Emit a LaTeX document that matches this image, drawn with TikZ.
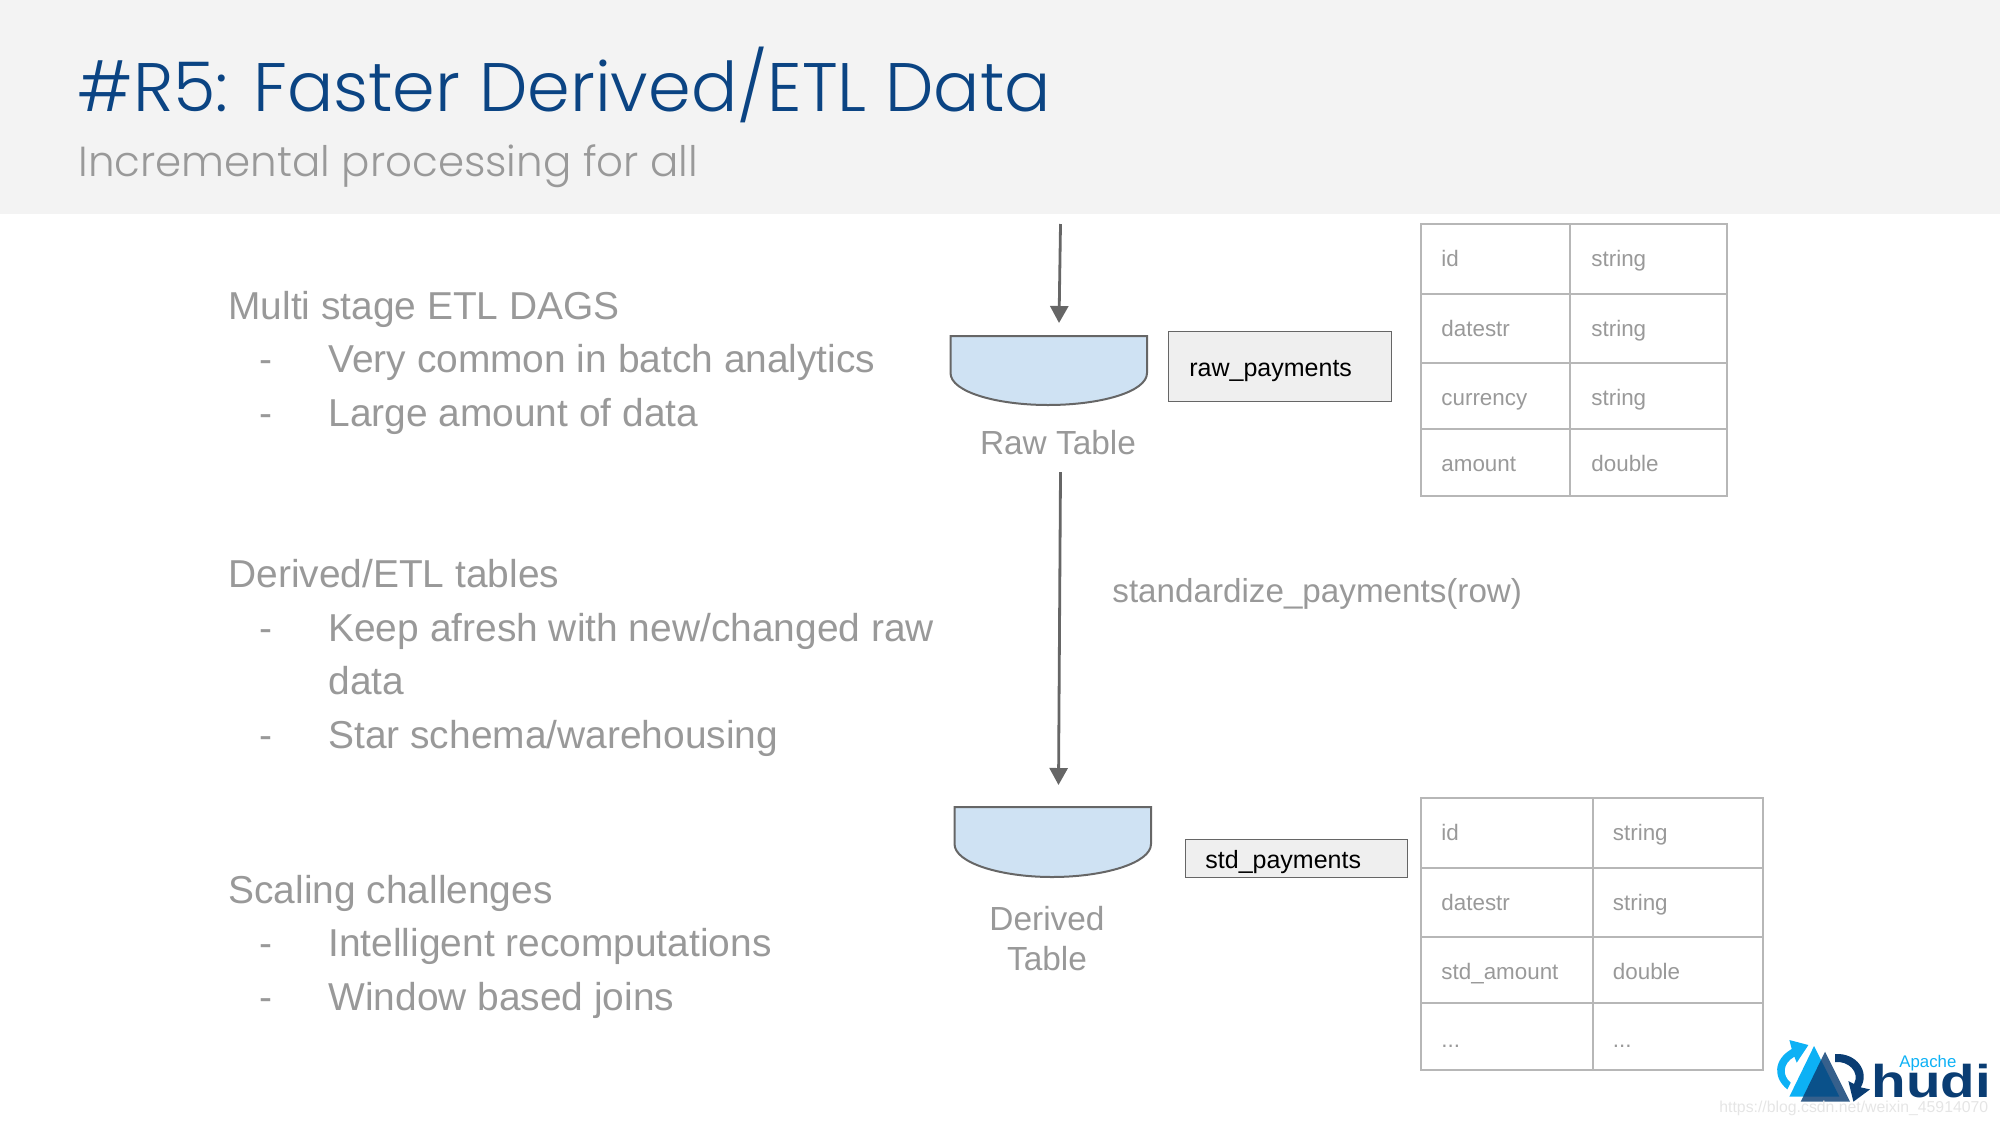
\documentclass[tikz,border=0pt]{standalone}
\usepackage{fontspec}
\setmainfont{Liberation Sans}
\newfontfamily\titlefont{Poppins Light}
\usetikzlibrary{calc}
\usetikzlibrary{arrows.meta}
\definecolor{myhead}{HTML}{F3F3F3}
\definecolor{mytitle}{HTML}{0B4483}
\definecolor{mygray}{HTML}{999999}
\definecolor{myline}{HTML}{B7B7B7}
\definecolor{mydark}{HTML}{666666}
\definecolor{mybarrel}{HTML}{CFE2F3}
\definecolor{mybox}{HTML}{EFEFEF}
\definecolor{mysky}{HTML}{0DB1F5}
\definecolor{mynavy}{HTML}{0A3D73}
\tikzset{every node/.style={inner sep=0, anchor=base west}}
\tikzset{body/.style={font=\fontsize{19.45}{24}\selectfont, text=mygray}}
\tikzset{cell/.style={font=\fontsize{11.2}{13}\selectfont, text=mygray}}
\tikzset{mid/.style={font=\fontsize{16.7}{20}\selectfont, text=mygray}}
\tikzset{tag/.style={font=\fontsize{12.5}{15}\selectfont, text=black}}
\tikzset{barrel/.style={draw=mydark, fill=mybarrel, line width=1pt}}
\tikzset{tagbox/.style={draw=mydark, fill=mybox, line width=0.95pt}}
\tikzset{grid line/.style={draw=myline, line width=1.1pt}}
\tikzset{flow/.style={draw=mydark, line width=1.4pt, -{Triangle[length=8.5pt,width=9pt]}}}

\begin{document}
\begin{tikzpicture}[x=0.5pt, y=-0.5pt]

\useasboundingbox (0,0) rectangle (2000,1125);

% header
\fill[myhead] (0,0) rectangle (2000,214);
\node[font=\titlefont\fontsize{34.3}{40}\selectfont, text=mytitle] (title) at (77,111) {\#R5: Faster Derived/ETL Data};
\node[font=\titlefont\fontsize{21}{26}\selectfont, text=mygray] (subtitle) at (78,176) {Incremental processing for all};

% left column
\def\Lx{228}
\def\Dx{259}
\def\Tx{328}

\node[body] (multi) at (\Lx,319) {Multi stage ETL DAGS};
\node[body] (d1) at (\Dx,372) {-};
\node[body] (very) at (\Tx,372) {Very common in batch analytics};
\node[body] (d2) at (\Dx,426) {-};
\node[body] (large) at (\Tx,426) {Large amount of data};

\node[body] (derived) at (\Lx,587) {Derived/ETL tables};
\node[body] (d3) at (\Dx,641) {-};
\node[body] (keep) at (\Tx,641) {Keep afresh with new/changed raw};
\node[body] (keepb) at (\Tx,694) {data};
\node[body] (d4) at (\Dx,748) {-};
\node[body] (star) at (\Tx,748) {Star schema/warehousing};

\node[body] (scaling) at (\Lx,903) {Scaling challenges};
\node[body] (d5) at (\Dx,956) {-};
\node[body] (intel) at (\Tx,956) {Intelligent recomputations};
\node[body] (d6) at (\Dx,1010) {-};
\node[body] (window) at (\Tx,1010) {Window based joins};

% raw table
\draw[barrel] (950.5,336) -- (1147,336) -- (1147,373) .. controls (1147,392) and (1100,405) .. (1048,405)
    .. controls (997,405) and (950.5,392) .. (950.5,373) -- cycle;
\node[mid, anchor=base] (rawlabel) at (1058,454) {Raw Table};
\draw[tagbox] (1168.5,331.5) rectangle (1391.5,401.5);
\node[tag] (rawname) at (1189,376) {raw\_payments};

% derived table
\draw[barrel] (954.5,807) -- (1151,807) -- (1151,844) .. controls (1151,863) and (1104,877) .. (1052,877)
    .. controls (1001,877) and (954.5,863) .. (954.5,844) -- cycle;
\node[mid, anchor=base] (derlabel) at (1047,930) {Derived};
\node[mid, anchor=base] (derlabelb) at (1047,970) {Table};
\draw[tagbox] (1185.5,839.5) rectangle (1407.5,877.5);
\node[tag] (stdname) at (1205,868) {std\_payments};

% arrows
\coordinate (IN) at (1060.5,224);
\coordinate (INT) at (1059,323);
\coordinate (MS) at (1060.5,472);
\coordinate (MT) at (1058.5,785);
\draw[flow] (IN) -- (INT);
\draw[flow] (MS) -- (MT);
\node[font=\fontsize{16.6}{20}\selectfont, text=mygray] (func) at (1112,602) {standardize\_payments(row)};

% raw schema
\draw[grid line] (1421,224) rectangle (1727,496);
\draw[grid line] (1570,224) -- (1570,496);
\draw[grid line] (1421,294) -- (1727,294);
\draw[grid line] (1421,363) -- (1727,363);
\draw[grid line] (1421,429) -- (1727,429);
\node[cell] (r1a) at (1441,266) {id};
\node[cell] (r1b) at (1591,266) {string};
\node[cell] (r2a) at (1441,336) {datestr};
\node[cell] (r2b) at (1591,336) {string};
\node[cell] (r3a) at (1441,405) {currency};
\node[cell] (r3b) at (1591,405) {string};
\node[cell] (r4a) at (1441,471) {amount};
\node[cell] (r4b) at (1591,471) {double};

% derived schema
\draw[grid line] (1421,798) rectangle (1763,1070);
\draw[grid line] (1593,798) -- (1593,1070);
\draw[grid line] (1421,868) -- (1763,868);
\draw[grid line] (1421,937) -- (1763,937);
\draw[grid line] (1421,1003) -- (1763,1003);
\node[cell] (s1a) at (1441,840) {id};
\node[cell] (s1b) at (1612.5,840) {string};
\node[cell] (s2a) at (1441,910) {datestr};
\node[cell] (s2b) at (1612.5,910) {string};
\node[cell] (s3a) at (1441,979) {std\_amount};
\node[cell] (s3b) at (1612.5,979) {double};
\node[cell] (s4a) at (1441,1047) {...};
\node[cell] (s4b) at (1612.5,1047) {...};

% logo
\coordinate (LG) at (1700,1000);
\begin{scope}[shift={(LG)}, x=0.1667pt, y=-0.1667pt]
\fill[mysky] (342,138) -- (268,290) -- (418,290) -- cycle;
\fill[mynavy, opacity=0.82] (375,155) -- (302,305) -- (450,305) -- cycle;
\fill[mysky] (262,268) .. controls (220,235) and (218,180) .. (275,147) -- (268,120) -- (325,135) -- (290,188) -- (283,170)
    .. controls (248,190) and (245,225) .. (272,248) -- cycle;
\fill[mynavy] (405,162) .. controls (470,158) and (510,215) .. (482,262) -- (510,268) -- (460,305) -- (445,243) -- (462,252)
    .. controls (480,215) and (445,182) .. (405,186) -- cycle;
\end{scope}
\node[font=\bfseries\fontsize{23}{26}\selectfont, text=mynavy, xscale=1.23] (hudi) at (1871,1097) {hudi};
\node[font=\fontsize{8.4}{10}\selectfont, text=mysky] (apache) at (1899,1067) {Apache};
\node[font=\fontsize{7.9}{9}\selectfont, text=black!10] (mark) at (1719,1112) {https://blog.csdn.net/weixin\_45914070};

\end{tikzpicture}
\end{document}
